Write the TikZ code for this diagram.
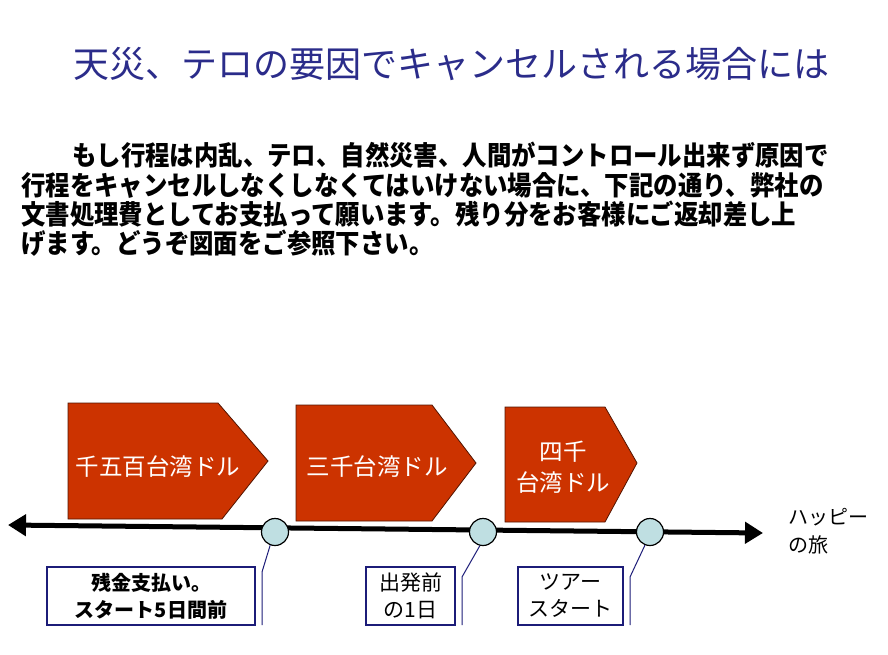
\documentclass[tikz,border=0pt]{standalone}
\usepackage{fontspec}
\setmainfont{Noto Sans CJK JP}
\usetikzlibrary{arrows.meta}
\definecolor{titleblue}{HTML}{2B2C8A}
\definecolor{arrowred}{HTML}{CC3300}
\definecolor{dotfill}{HTML}{BFDFE2}
\definecolor{boxblue}{HTML}{1C1C78}
\begin{document}
\begin{tikzpicture}[x=1pt,y=-1pt,
 titletext/.style={font=\fontsize{36}{40}\selectfont, text=titleblue, inner sep=0},
 bodytext/.style={font=\bfseries\fontsize{24.4}{28}\selectfont, anchor=west, inner sep=0},
 pentagon/.style={fill=arrowred, draw=black!60!arrowred, line width=0.8pt},
 pentext/.style={text=white, font=\fontsize{23.5}{31}\selectfont, align=center, inner sep=0},
 dot/.style={circle, fill=dotfill, draw=black, line width=1.2pt, minimum size=27pt, inner sep=0},
 labelbox/.style={draw=boxblue, line width=1.3pt, align=center, inner sep=0, minimum height=58pt, font=\fontsize{20}{27}\selectfont},
 leader/.style={draw=boxblue, line width=1pt},
 timeline/.style={line width=5pt, {Triangle[length=18pt,width=21pt]}-{Triangle[length=18pt,width=21pt]}},
 sidetext/.style={anchor=west, align=left, inner sep=0, font=\fontsize{20}{28}\selectfont},
]
\useasboundingbox (0,0) rectangle (888,655);

% title
\node[titletext] (title) at (451,64) {天災、テロの要因でキャンセルされる場合には};

% body text
\node[bodytext] (b1) at (72,155) {\scalebox{1}[1.1]{もし行程は内乱、テロ、自然災害、人間がコントロール出来ず原因で}};
\node[bodytext] (b2) at (21,186) {\scalebox{1}[1.1]{行程をキャンセルしなくしなくてはいけない場合に、下記の通り、弊社の}};
\node[bodytext] (b3) at (21,214) {\scalebox{1}[1.1]{文書処理費としてお支払って願います。残り分をお客様にご返却差し上}};
\node[bodytext] (b4) at (21,243) {\scalebox{1}[1.1]{げます。どうぞ図面をご参照下さい。}};

% pentagons
\draw[pentagon] (68,403) -- (218,403) -- (268,461) -- (222,519) -- (68,519) -- cycle;
\node[pentext] (p1) at (158,467) {千五百台湾ドル};
\draw[pentagon] (296,405) -- (432,405) -- (476,463) -- (432,521) -- (296,521) -- cycle;
\node[pentext] (p2) at (377,467) {三千台湾ドル};
\draw[pentagon] (505,407) -- (605,407) -- (637,463) -- (605,522) -- (505,522) -- cycle;
\node[pentext] (p3) at (563,467.5) {四千\\台湾ドル};

% timeline
\coordinate (tl) at (8,525);
\coordinate (tr) at (763,533);
\draw[timeline] (tl) -- (tr);

% milestones
\node[dot] (c1) at (275,532) {};
\node[dot] (c2) at (483,532) {};
\node[dot] (c3) at (650,532) {};

% label boxes
\node[labelbox, minimum width=208pt] (l1) at (151,596) {\bfseries 残金支払い。\\\bfseries スタート5日間前};
\node[labelbox, minimum width=89pt, font=\fontsize{21}{27}\selectfont] (l2) at (410.5,596) {出発前\\の1日};
\node[labelbox, minimum width=105pt, font=\fontsize{21}{27}\selectfont] (l3) at (570.5,596) {ツアー\\スタート};

% callout leaders with accent bars
\coordinate (a1t) at (262,572);
\coordinate (a1b) at (262,625);
\draw[leader] (c1.-110) -- (a1t) -- (a1b);
\coordinate (a2t) at (462,577);
\coordinate (a2b) at (462,625);
\draw[leader] (c2.-103) -- (a2t) -- (a2b);
\coordinate (a3t) at (630,577);
\coordinate (a3b) at (630,625);
\draw[leader] (c3.-111) -- (a3t) -- (a3b);

% side text
\node[sidetext] (happy) at (788,531) {ハッピー\\の旅};
\end{tikzpicture}
\end{document}
